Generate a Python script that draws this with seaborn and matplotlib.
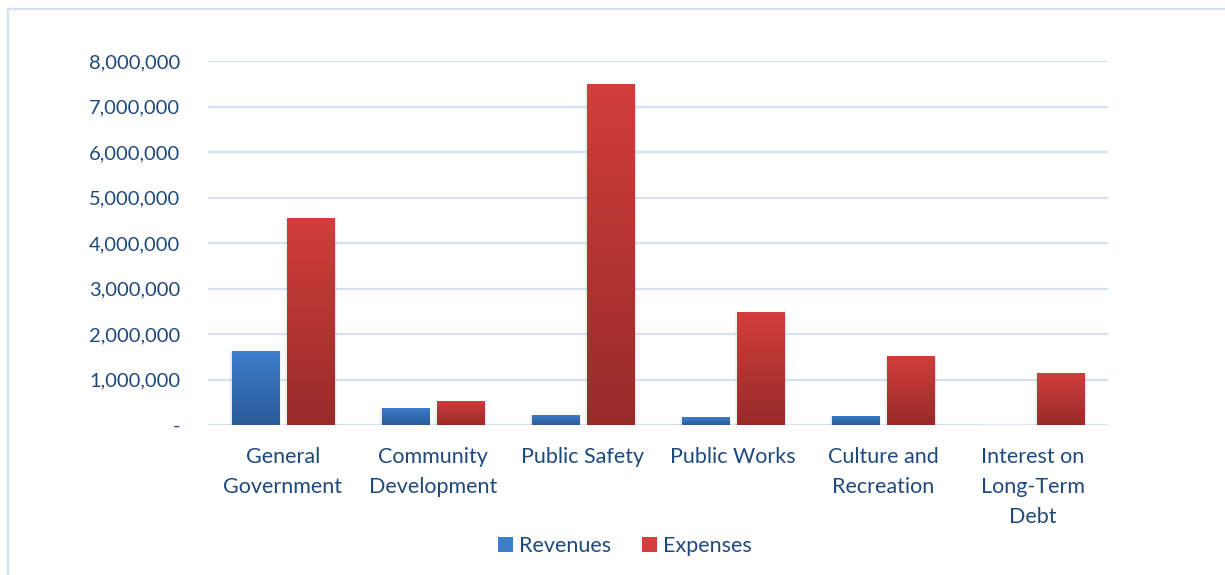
import numpy as np
import pandas as pd
import matplotlib
matplotlib.use("Agg")
import matplotlib.pyplot as plt
import seaborn as sns
from matplotlib.patches import Rectangle
from matplotlib.colors import LinearSegmentedColormap

categories = ["General\nGovernment", "Community\nDevelopment", "Public Safety",
              "Public Works", "Culture and\nRecreation", "Interest on\nLong-Term\nDebt"]
revenues = [1630000, 375000, 220000, 175000, 200000, 0]
expenses = [4550000, 530000, 7490000, 2480000, 1520000, 1140000]
series_names = ["Revenues", "Expenses"]
yticks = [0, 1000000, 2000000, 3000000, 4000000, 5000000, 6000000, 7000000, 8000000]

df = pd.DataFrame({
    "category": categories * 2,
    "value": revenues + expenses,
    "series": [series_names[0]] * len(categories) + [series_names[1]] * len(categories),
})

sns.set_theme(style="white")
plt.rcParams["font.family"] = ["Lato", "DejaVu Sans"]
text_color = "#1F497D"
grid_color = "#D6E2F2"

fig = plt.figure(figsize=(12.25, 5.75), dpi=100)
ax = fig.add_axes([208/1225, 1 - 425/575, 900/1225, (425 - 61)/575])

top_colors = {"Revenues": "#3C7ECD", "Expenses": "#D13E3B"}
bot_colors = {"Revenues": "#2B5B97", "Expenses": "#972B29"}

sns.barplot(data=df, x="category", y="value", hue="series", ax=ax,
            palette=top_colors, width=0.74, gap=0.15, legend=False, zorder=3)

ax.set_ylim(0, 8000000)
ax.set_xlim(-0.5, len(categories) - 0.5)
ax.set_yticks(yticks)
ax.set_yticklabels(["-" if v == 0 else f"{v:,.0f}" for v in yticks])
ax.yaxis.grid(True, color=grid_color, linewidth=1.6, zorder=0)
ax.set_axisbelow(True)
for s in ax.spines.values():
    s.set_visible(False)
ax.tick_params(axis="y", length=0, pad=20, labelsize=14.5, labelcolor=text_color)
ax.tick_params(axis="x", length=0, pad=16, labelsize=15.5, labelcolor=text_color)
for lbl in ax.get_xticklabels():
    lbl.set_linespacing(1.62)
ax.set_xlabel("")
ax.set_ylabel("")

# gradient fill + soft shadow for each bar
n = len(categories)
for i, p in enumerate(ax.patches[:2 * n]):
    name = series_names[0] if i < n else series_names[1]
    x0, y0 = p.get_x(), p.get_y()
    w, h = p.get_width(), p.get_height()
    if h <= 0:
        continue
    cmap = LinearSegmentedColormap.from_list("g", [bot_colors[name], top_colors[name]])
    grad = np.linspace(0, 1, 256).reshape(-1, 1)
    im = ax.imshow(grad, cmap=cmap, origin="lower", aspect="auto",
                   extent=[x0, x0 + w, y0, y0 + h], zorder=3.5)
    im.set_clip_path(p)
    # shadow
    for k in range(4):
        sh = Rectangle((x0 - 0.004 * (k + 1), y0 - 12000 * (k + 1)), w + 0.008 * (k + 1), h + 8000 * (k + 1),
                       facecolor="#000000", alpha=0.025, edgecolor="none", zorder=2.9)
        ax.add_patch(sh)
ax.set_xlim(-0.5, len(categories) - 0.5)
ax.set_ylim(0, 8000000)

# legend
handles = [Rectangle((0, 0), 1, 1, facecolor=top_colors[s], edgecolor="none") for s in series_names]
fig.legend(handles, series_names, loc="center", bbox_to_anchor=(625/1225, 1 - 546/575),
           ncol=2, frameon=False, fontsize=15.5, labelcolor=text_color,
           handlelength=0.7, handleheight=0.7, handletextpad=0.3, columnspacing=1.4)

# outer border (cut off at right/bottom)
fig.add_artist(Rectangle((8/1225, -0.1), 1.2, 1.1 - 9/575, transform=fig.transFigure,
                         facecolor="none", edgecolor="#D5E1F0", linewidth=1.6))

fig.savefig("out.png", dpi=100)
